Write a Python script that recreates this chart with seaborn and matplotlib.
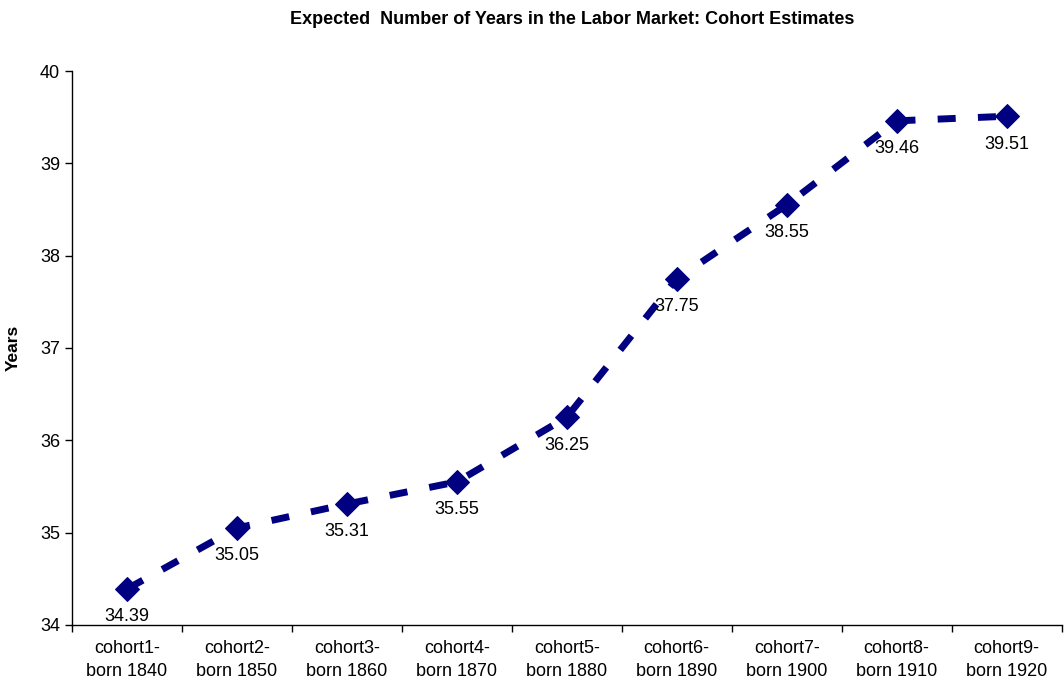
import matplotlib
matplotlib.use("Agg")
import matplotlib.pyplot as plt
import seaborn as sns
import pandas as pd
import numpy as np

cohorts = ["cohort1-\nborn 1840", "cohort2-\nborn 1850", "cohort3-\nborn 1860",
           "cohort4-\nborn 1870", "cohort5-\nborn 1880", "cohort6-\nborn 1890",
           "cohort7-\nborn 1900", "cohort8-\nborn 1910", "cohort9-\nborn 1920"]
years = [34.39, 35.05, 35.31, 35.55, 36.25, 37.75, 38.55, 39.46, 39.51]
y_ticks = [34, 35, 36, 37, 38, 39, 40]


def main():
    sns.set_style("white")
    plt.rcParams["font.family"] = ["Liberation Sans", "DejaVu Sans"]
    plt.rcParams["text.color"] = "black"
    plt.rcParams["axes.labelcolor"] = "black"
    plt.rcParams["xtick.color"] = "black"
    plt.rcParams["ytick.color"] = "black"

    df = pd.DataFrame({"pos": np.arange(len(cohorts)), "years": years})

    fig = plt.figure(figsize=(10.64, 6.88), dpi=100)
    ax = fig.add_axes([0.0677, 0.0916, 0.930, 0.8052])

    line_color = "#000080"
    sns.lineplot(data=df, x="pos", y="years", ax=ax, color=line_color,
                 linewidth=5, marker="D", markersize=12.5,
                 markeredgecolor=line_color, markerfacecolor=line_color)
    ax.get_lines()[0].set_dashes([2.6, 3.2])

    # 値ラベル
    for i, v in enumerate(years):
        ax.annotate(f"{v:.2f}", (i, v), xytext=(0, -20), textcoords="offset points",
                    ha="center", va="center", fontsize=13, color="black")

    ax.set_xlim(-0.5, len(cohorts) - 0.5)
    ax.set_ylim(34, 40)
    ax.set_yticks(y_ticks)
    ax.tick_params(axis="y", labelsize=13, length=5, direction="out", left=True,
                   width=1, color="black")

    ax.set_xticks(np.arange(-0.5, len(cohorts), 1.0))
    ax.set_xticklabels([])
    ax.set_xticks(np.arange(len(cohorts)), minor=True)
    ax.set_xticklabels(cohorts, minor=True, fontsize=13, linespacing=1.45)
    ax.tick_params(axis="x", which="major", length=5, direction="out", bottom=True,
                   width=1, color="black")
    ax.tick_params(axis="x", which="minor", length=0, pad=11)

    for s in ["top", "right"]:
        ax.spines[s].set_visible(False)
    for s in ["left", "bottom"]:
        ax.spines[s].set_color("black")
        ax.spines[s].set_linewidth(1)

    ax.set_xlabel("")
    ax.set_ylabel("Years", fontsize=12.5, fontweight="bold", labelpad=14)
    fig.text(0.538, 0.971, "Expected  Number of Years in the Labor Market: Cohort Estimates",
             ha="center", va="center", fontsize=13, fontweight="bold")

    fig.savefig("out.png", dpi=100)


if __name__ == "__main__":
    main()
